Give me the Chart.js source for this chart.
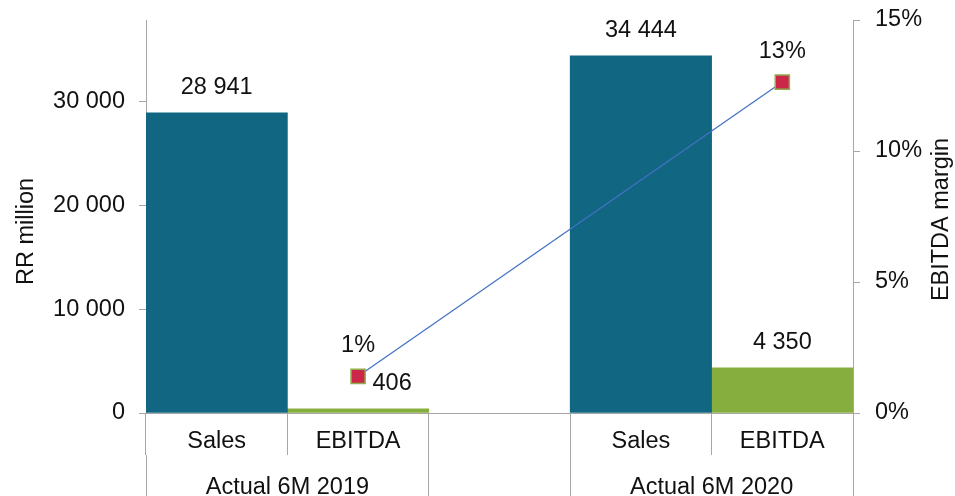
<!DOCTYPE html>
<html>
<head>
<meta charset="utf-8">
<script src="https://cdn.jsdelivr.net/npm/chart.js@4"></script>
<style>
  html, body { margin: 0; padding: 0; background: #fff; }
  #wrap { width: 955px; height: 496px; }
</style>
</head>
<body>
<div id="wrap"><canvas id="chart" width="955" height="496"></canvas></div>
<script>
// categories (empty slot between the two periods)
const categories = ['Sales', 'EBITDA', '', 'Sales', 'EBITDA'];
const groupLabels = ['Actual 6M 2019', 'Actual 6M 2020'];

// RR million
const salesValues = [28941, null, null, 34444, null];
const ebitdaValues = [null, 406, null, null, 4350];

// EBITDA margin, %
const marginValues = [null, 1.40, null, null, 12.63];

// axis ticks
const leftTicks = [0, 10000, 20000, 30000];
const rightTicks = [0, 5, 10, 15];

const FONT = '"Liberation Sans", Arial, sans-serif';
const FONT_SIZE = 23.5;
const TEXT = '#111';
const AXIS_GREY = '#A6A6A6';

// format with a space as thousands separator
function fmt(v) {
  return String(Math.round(v)).replace(/\B(?=(\d{3})+(?!\d))/g, ' ');
}

// no automatic label padding around the plot area
function noPad(scale) {
  scale.paddingTop = 0;
  scale.paddingBottom = 0;
  scale.paddingLeft = 0;
  scale.paddingRight = 0;
}

// value labels above bars and margin points
const valueLabels = {
  id: 'valueLabels',
  afterDatasetsDraw(chart) {
    const ctx = chart.ctx;
    ctx.save();
    ctx.font = FONT_SIZE + 'px ' + FONT;
    ctx.fillStyle = TEXT;
    ctx.textAlign = 'center';
    ctx.textBaseline = 'middle';
    chart.data.datasets.forEach((ds, di) => {
      const meta = chart.getDatasetMeta(di);
      meta.data.forEach((el, i) => {
        const v = ds.data[i];
        if (v === null || v === undefined) return;
        if (ds.type === 'line') {
          ctx.fillText(Math.round(v) + '%', el.x, el.y - 31);
        } else {
          // the small 2019 EBITDA label sits right of the marker
          const dx = (ds.label === 'EBITDA' && i === 1) ? 34 : 0;
          ctx.fillText(fmt(v), el.x + dx, el.y - 25);
        }
      });
    });
    ctx.restore();
  }
};

// rotated axis titles, both read bottom to top
const axisTitles = {
  id: 'axisTitles',
  afterDraw(chart) {
    const ctx = chart.ctx;
    const a = chart.chartArea;
    const mid = (a.top + a.bottom) / 2;
    ctx.save();
    ctx.font = FONT_SIZE + 'px ' + FONT;
    ctx.fillStyle = TEXT;
    ctx.textAlign = 'center';
    ctx.textBaseline = 'middle';
    [['RR million', 27, mid + 15], ['EBITDA margin', 942, mid + 3]].forEach(([t, x, y]) => {
      ctx.save();
      ctx.translate(x, y);
      ctx.rotate(-Math.PI / 2);
      ctx.fillText(t, 0, 0);
      ctx.restore();
    });
    ctx.restore();
  }
};

new Chart(document.getElementById('chart'), {
  data: {
    labels: categories,
    datasets: [
      {
        type: 'line',
        label: 'EBITDA margin',
        data: marginValues,
        yAxisID: 'y1',
        spanGaps: true,
        borderColor: '#4472C4',
        borderWidth: 1.25,
        pointStyle: 'rect',
        pointRadius: 10,
        pointBackgroundColor: '#CC2649',
        pointBorderColor: '#8DB04A',
        pointBorderWidth: 1.5,
        order: 0
      },
      {
        type: 'bar',
        label: 'Sales',
        data: salesValues,
        backgroundColor: '#116682',
        grouped: false,
        barPercentage: 1,
        categoryPercentage: 1,
        order: 1
      },
      {
        type: 'bar',
        label: 'EBITDA',
        data: ebitdaValues,
        backgroundColor: '#86AE3E',
        grouped: false,
        barPercentage: 1,
        categoryPercentage: 1,
        order: 1
      }
    ]
  },
  options: {
    responsive: false,
    animation: false,
    layout: { autoPadding: false, padding: { top: 20, left: 0, right: 0, bottom: 0 } },
    plugins: {
      legend: { display: false },
      tooltip: { enabled: false }
    },
    scales: {
      x: {
        type: 'category',
        offset: true,
        weight: 0,
        grid: {
          offset: true,
          drawOnChartArea: false,
          tickLength: 42,
          color: AXIS_GREY
        },
        border: { display: true, color: AXIS_GREY },
        ticks: {
          padding: -28,
          color: TEXT,
          font: { family: FONT, size: FONT_SIZE },
          maxRotation: 0,
          autoSkip: false
        },
        afterFit(scale) { scale.height = 42; noPad(scale); }
      },
      x2: {
        type: 'linear',
        position: 'bottom',
        weight: 1,
        min: -0.5,
        max: 4.5,
        grid: {
          drawOnChartArea: false,
          tickLength: 41,
          color: (c) => (c.tick && (c.tick.value === 0.5 || c.tick.value === 3.5)) ? 'rgba(0,0,0,0)' : AXIS_GREY
        },
        border: { display: false },
        ticks: {
          padding: -23,
          color: TEXT,
          font: { family: FONT, size: FONT_SIZE },
          maxRotation: 0,
          autoSkip: false,
          callback: (v) => v === 0.5 ? groupLabels[0] : (v === 3.5 ? groupLabels[1] : '')
        },
        afterBuildTicks(scale) {
          scale.ticks = [-0.5, 0.5, 1.5, 2.5, 3.5, 4.5].map(v => ({ value: v }));
        },
        afterFit(scale) { scale.height = 41; noPad(scale); }
      },
      y: {
        position: 'left',
        min: 0,
        max: 37900,
        grid: { drawOnChartArea: false, tickLength: 7, color: AXIS_GREY },
        border: { display: true, color: AXIS_GREY },
        ticks: {
          padding: 14,
          color: TEXT,
          font: { family: FONT, size: FONT_SIZE },
          callback: (v) => fmt(v)
        },
        afterBuildTicks(scale) {
          scale.ticks = leftTicks.map(v => ({ value: v }));
        },
        afterFit(scale) { scale.width = 146; noPad(scale); }
      },
      y1: {
        position: 'right',
        min: 0,
        max: 15,
        grid: { drawOnChartArea: false, tickLength: 7, color: AXIS_GREY },
        border: { display: true, color: AXIS_GREY },
        ticks: {
          padding: 15,
          color: TEXT,
          font: { family: FONT, size: FONT_SIZE },
          callback: (v) => v + '%'
        },
        afterBuildTicks(scale) {
          scale.ticks = rightTicks.map(v => ({ value: v }));
        },
        afterFit(scale) { scale.width = 102; noPad(scale); }
      }
    }
  },
  plugins: [valueLabels, axisTitles]
});
</script>
</body>
</html>
